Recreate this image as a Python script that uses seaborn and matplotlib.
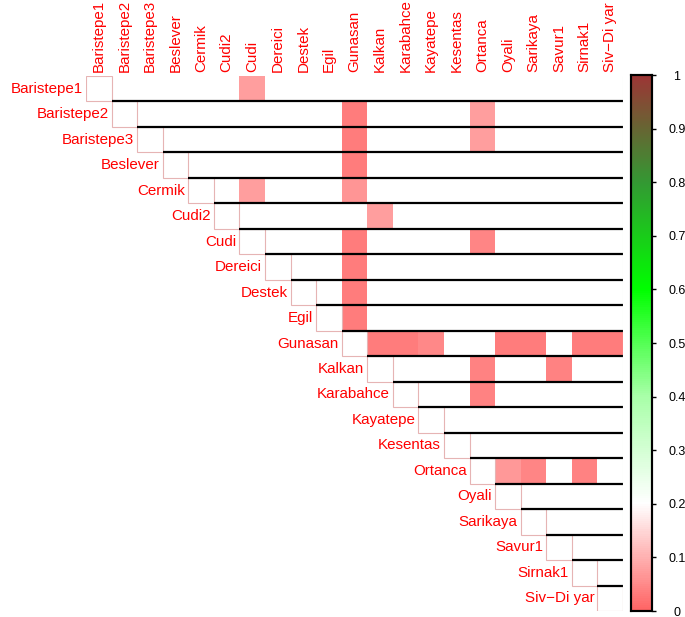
import numpy as np
import pandas as pd
import matplotlib
matplotlib.use("Agg")
import matplotlib.pyplot as plt
from matplotlib.colors import LinearSegmentedColormap
from matplotlib.patches import Rectangle
import seaborn as sns

sns.set_style("white")
plt.rcParams['font.family'] = ['Liberation Sans', 'DejaVu Sans']

# ---------------- data ----------------
populations = ["Baristepe1", "Baristepe2", "Baristepe3", "Beslever", "Cermik", "Cudi2",
               "Cudi", "Dereici", "Destek", "Egil", "Gunasan", "Kalkan", "Karabahce",
               "Kayatepe", "Kesentas", "Ortanca", "Oyali", "Sarikaya", "Savur1",
               "Sirnak1", "Siv\u2212Di yar"]

# coloured (low) cells of the upper triangle: row, column, value
sig_rows = ["Baristepe1", "Baristepe2", "Baristepe2", "Baristepe3", "Baristepe3",
            "Beslever", "Cermik", "Cermik", "Cudi2", "Cudi", "Cudi", "Dereici",
            "Destek", "Egil", "Gunasan", "Gunasan", "Gunasan", "Gunasan", "Gunasan",
            "Gunasan", "Gunasan", "Kalkan", "Kalkan", "Karabahce", "Ortanca",
            "Ortanca", "Ortanca"]
sig_cols = ["Cudi", "Gunasan", "Ortanca", "Gunasan", "Ortanca",
            "Gunasan", "Cudi", "Gunasan", "Kalkan", "Gunasan", "Ortanca", "Gunasan",
            "Gunasan", "Gunasan", "Kalkan", "Karabahce", "Kayatepe", "Oyali", "Sarikaya",
            "Sirnak1", "Siv\u2212Di yar", "Ortanca", "Savur1", "Ortanca", "Oyali",
            "Sarikaya", "Sirnak1"]
sig_vals = [0.075, 0.033, 0.075, 0.035, 0.075,
            0.035, 0.075, 0.065, 0.075, 0.035, 0.045, 0.035,
            0.035, 0.035, 0.035, 0.035, 0.05, 0.035, 0.035,
            0.035, 0.035, 0.04, 0.04, 0.04, 0.07,
            0.045, 0.04]
other_value = 0.2   # all remaining cells (shown white)

n = len(populations)
mat = pd.DataFrame(other_value, index=populations, columns=populations)
for r, c, v in zip(sig_rows, sig_cols, sig_vals):
    mat.loc[r, c] = v
mask = np.tril(np.ones((n, n), dtype=bool), k=-1)

cmap = LinearSegmentedColormap.from_list(
    "rwg", [(0.0, "#ff6464"), (0.2, "#ffffff"), (0.4, "#a8ffa8"),
            (0.6, "#00ff00"), (0.8, "#339933"), (0.9, "#666633"), (1.0, "#9c3535")])

# ---------------- figure ----------------
W, H = 685, 617
fig = plt.figure(figsize=(W / 100, H / 100), dpi=100)
ax = fig.add_axes([86 / W, (H - 611) / H, 537 / W, 535 / H])
cax = fig.add_axes([631 / W, (H - 611) / H, 21 / W, 536 / H])

sns.heatmap(mat, mask=mask, cmap=cmap, vmin=0, vmax=1, ax=ax, cbar_ax=cax,
            xticklabels=populations, yticklabels=False, linewidths=0)

FS = 10.9
# column labels on top
ax.xaxis.tick_top()
ax.set_xticks(np.arange(n) + 0.5)
ax.set_xticklabels(populations, rotation=90, color="red", fontsize=FS)
ax.tick_params(axis="x", length=0, pad=3)
ax.set_xlabel("")
ax.set_ylabel("")
for s in ax.spines.values():
    s.set_visible(False)

# row labels placed next to the diagonal
for i, name in enumerate(populations):
    ax.text(i - 0.12, i + 0.5, name, ha="right", va="center", color="red", fontsize=FS)

# diagonal cell outlines
for i in range(n):
    ax.add_patch(Rectangle((i, i), 1, 1, fill=False, edgecolor="#e6b4b4", lw=0.8))

# black separators along the top of each row
for i in range(1, n):
    ax.hlines(i, i, n, color="black", lw=1.6)
ax.vlines(n, 0, n, color="#e0efe0", lw=0.8)

# colorbar
ticks = [0, 0.1, 0.2, 0.3, 0.4, 0.5, 0.6, 0.7, 0.8, 0.9, 1]
tick_labels = ["0", "0.1", "0.2", "0.3", "0.4", "0.5", "0.6", "0.7", "0.8", "0.9", "1"]
cax.set_yticks(ticks)
cax.set_yticklabels(tick_labels, fontsize=9, color="black")
cax.tick_params(axis="y", length=3, width=1, color="black", pad=15, direction="out")
for lab in cax.get_yticklabels():
    lab.set_horizontalalignment("center")
for s in cax.spines.values():
    s.set_visible(True)
    s.set_color("black")
    s.set_linewidth(1.5)
cb = ax.collections[0].colorbar
cb.outline.set_edgecolor("black")
cb.outline.set_linewidth(1.5)

fig.savefig("out.png", dpi=100)
